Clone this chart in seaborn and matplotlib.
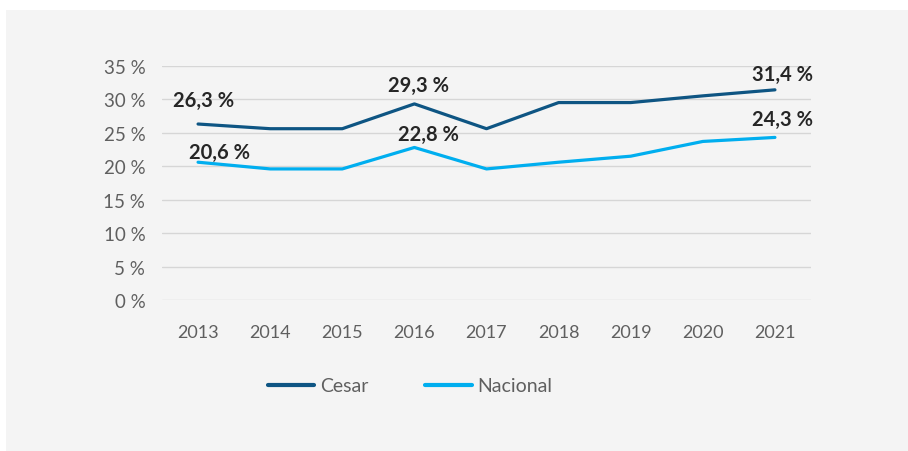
import pandas as pd
import numpy as np
import matplotlib
matplotlib.use("Agg")
import matplotlib.pyplot as plt
import seaborn as sns
from matplotlib.patches import Rectangle

# values
years = ["2013", "2014", "2015", "2016", "2017", "2018", "2019", "2020", "2021"]
cesar = [26.3, 25.6, 25.6, 29.3, 25.6, 29.5, 29.5, 30.5, 31.4]
nacional = [20.6, 19.6, 19.6, 22.8, 19.6, 20.6, 21.5, 23.7, 24.3]
series_names = ["Cesar", "Nacional"]
y_ticks = [0, 5, 10, 15, 20, 25, 30, 35]

# which points get a value label
labelled = {"Cesar": ["2013", "2016", "2021"], "Nacional": ["2013", "2016", "2021"]}

df = pd.DataFrame({
    "year": years * 2,
    "value": cesar + nacional,
    "serie": ["Cesar"] * len(years) + ["Nacional"] * len(years),
})

sns.set_theme(style="white")
plt.rcParams["font.family"] = ["Lato", "DejaVu Sans"]

colors = {"Cesar": "#0e5583", "Nacional": "#00aeef"}
grey_txt = "#5f5f5f"

fig = plt.figure(figsize=(9.08, 4.52), dpi=100, facecolor="white")
fig.patches.append(Rectangle((6 / 908, 0), 1, 1 - 11 / 452, transform=fig.transFigure,
                             facecolor="#f4f4f4", edgecolor="none", zorder=-5))
ax = fig.add_axes([162 / 908, 1 - 301.3 / 452, (811 - 162) / 908, (301.3 - 66.7) / 452])
ax.set_facecolor("none")
ax.set_zorder(2)

sns.lineplot(data=df, x="year", y="value", hue="serie", palette=colors,
             linewidth=2.3, ax=ax, legend=False, sort=False)
for ln in ax.lines:
    ln.set_solid_capstyle("round")

ax.set_xlim(-0.5, len(years) - 0.5)
ax.set_ylim(0, 35)
ax.set_yticks(y_ticks)
ax.set_yticklabels([f"{t}\u2009\u2009%" for t in y_ticks])
ax.yaxis.grid(True, color="#d6d6d6", linewidth=1)
ax.set_axisbelow(True)
for s in ax.spines.values():
    s.set_visible(False)
ax.tick_params(axis="y", length=0, pad=12, labelsize=13.5, labelcolor=grey_txt)
ax.tick_params(axis="x", length=0, pad=17, labelsize=13, labelcolor=grey_txt)
ax.set_xlabel("")
ax.set_ylabel("")

# label offsets in pixels (dx, dy)
offsets = {
    ("Cesar", "2013"): (6, 24), ("Nacional", "2013"): (21, 10),
    ("Cesar", "2016"): (4, 19), ("Nacional", "2016"): (14, 14),
    ("Cesar", "2021"): (8, 16), ("Nacional", "2021"): (8, 18),
}
vals = {"Cesar": cesar, "Nacional": nacional}
for name in series_names:
    for yr in labelled[name]:
        i = years.index(yr)
        v = vals[name][i]
        ax.annotate(f"{v:.1f} %".replace(".", ","), (i, v),
                    xytext=offsets[(name, yr)], textcoords="offset pixels",
                    ha="center", va="center", fontsize=14.5, fontweight="bold",
                    color="#262626")

handles = [plt.Line2D([0], [0], color=colors[n], linewidth=3, solid_capstyle="round")
           for n in series_names]
fig.legend(handles, series_names, loc="center", bbox_to_anchor=(410 / 908, 1 - 387 / 452),
           ncol=2, frameon=False, fontsize=14, labelcolor=grey_txt,
           handlelength=2.4, handletextpad=0.3, columnspacing=2.9)

fig.savefig("out.png", dpi=100, facecolor="white")
